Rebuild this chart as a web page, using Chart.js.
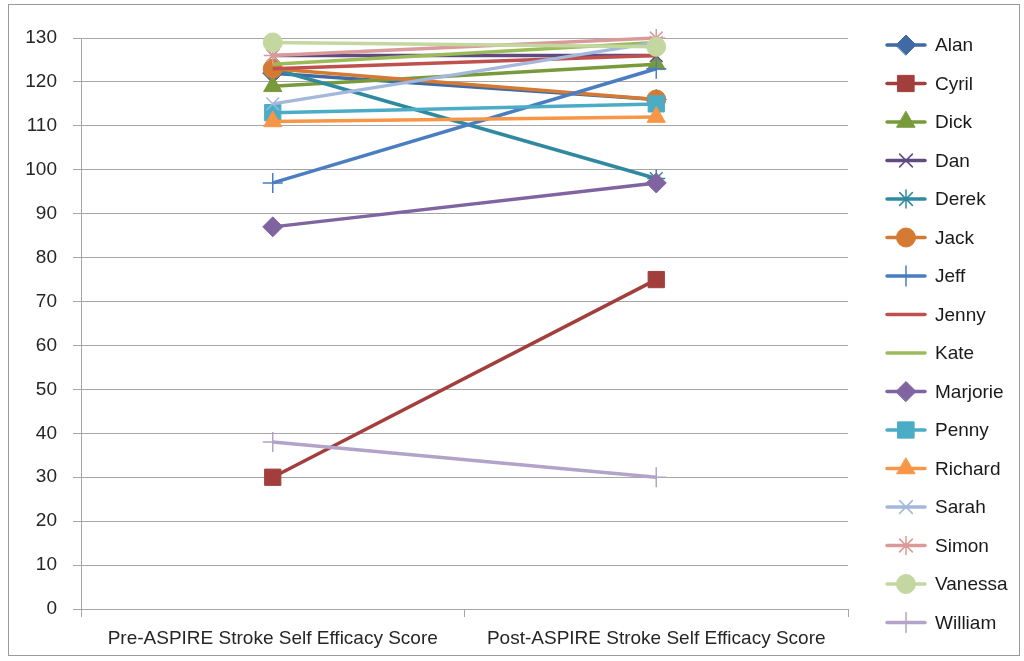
<!DOCTYPE html>
<html>
<head>
<meta charset="utf-8">
<title>ASPIRE Stroke Self Efficacy Score</title>
<script src="https://cdn.jsdelivr.net/npm/chart.js@4.4.1/dist/chart.umd.min.js"></script>
<style>
  html, body { margin: 0; padding: 0; background: #fff; }
  #wrap { width: 1024px; height: 661px; }
</style>
</head>
<body>
<div id="wrap"><canvas id="chart" width="1024" height="661"></canvas></div>
<script>
'use strict';

/* ─── Data ─────────────────────────────────────────────────── */
const categories = ['Pre-ASPIRE Stroke Self Efficacy Score', 'Post-ASPIRE Stroke Self Efficacy Score'];
const names      = ['Alan', 'Cyril', 'Dick', 'Dan', 'Derek', 'Jack', 'Jeff', 'Jenny',
                    'Kate', 'Marjorie', 'Penny', 'Richard', 'Sarah', 'Simon', 'Vanessa', 'William'];
const preScores  = [122, 30, 119, 126, 123, 123, 97, 123, 124, 87, 113, 111, 115, 126, 129, 38];
const postScores = [116, 75, 124, 126, 98, 116, 123, 126, 129, 97, 115, 112, 129, 130, 128, 30];
const yMin = 0, yMax = 130, yStep = 10;

/* ─── Series styling (Excel 2007 look) ─────────────────────── */
const colors  = ['#3F6AA3', '#A23F3C', '#789A3B', '#5F4B80', '#31899F', '#D57A33',
                 '#4A7EC0', '#C0504D', '#9BBB59', '#8064A2', '#4BACC6', '#F79646',
                 '#A3B8DA', '#D99A99', '#C4D7A0', '#B3A3C8'];
const markers = ['rectRot', 'rect', 'triangle', 'crossRot', 'star', 'circle', 'cross', false,
                 false, 'rectRot', 'rect', 'triangle', 'crossRot', 'star', 'circle', 'cross'];
const radii   = { rectRot: 10, rect: 11.5, triangle: 10.5, crossRot: 9, star: 9, circle: 9.5, cross: 10 };
const thin    = ['crossRot', 'star', 'cross'];

const FONT = { family: "'Liberation Sans', Arial, sans-serif", size: 19 };
const GRID = '#A6A6A6';

/* ─── Plugins ──────────────────────────────────────────────── */
const frame = {
  id: 'frame',
  beforeDraw(chart) {
    const { ctx } = chart;
    ctx.save();
    ctx.fillStyle = '#fff';
    ctx.fillRect(0, 0, chart.width, chart.height);
    ctx.strokeStyle = '#9A9A9A';
    ctx.lineWidth = 1;
    ctx.strokeRect(8.5, 4.5, 1011, 651);
    ctx.restore();
  }
};

const LEGEND_X = 887, LEGEND_TOP = 45, LEGEND_STEP = 38.5;
const excelLegend = {
  id: 'excelLegend',
  afterDraw(chart) {
    const { ctx } = chart;
    chart.data.datasets.forEach((ds, i) => {
      const y = LEGEND_TOP + i * LEGEND_STEP;
      ctx.save();
      ctx.strokeStyle = ds.borderColor;
      ctx.lineWidth = ds.borderWidth;
      ctx.lineCap = 'round';
      ctx.beginPath();
      ctx.moveTo(LEGEND_X, y);
      ctx.lineTo(LEGEND_X + 38, y);
      ctx.stroke();
      if (ds.pointRadius > 0) {
        ctx.fillStyle = ds.pointBackgroundColor;
        ctx.strokeStyle = ds.pointBorderColor;
        ctx.lineWidth = ds.pointBorderWidth;
        Chart.helpers.drawPoint(ctx, {
          pointStyle: ds.pointStyle, radius: ds.pointRadius,
          rotation: 0, borderWidth: ds.pointBorderWidth
        }, LEGEND_X + 19, y);
      }
      ctx.fillStyle = '#1a1a1a';
      ctx.font = `${FONT.size}px ${FONT.family}`;
      ctx.textBaseline = 'middle';
      ctx.fillText(ds.label, LEGEND_X + 48, y + 1);
      ctx.restore();
    });
  }
};

/* ─── Build ────────────────────────────────────────────────── */
const datasets = names.map((name, i) => {
  const style = markers[i];
  return {
    label: name,
    data: [preScores[i], postScores[i]],
    borderColor: colors[i],
    backgroundColor: colors[i],
    borderWidth: 3.5,
    pointStyle: style || 'circle',
    pointRadius: style ? radii[style] : 0,
    pointHoverRadius: style ? radii[style] : 0,
    pointBackgroundColor: colors[i],
    pointBorderColor: colors[i],
    pointBorderWidth: style && thin.includes(style) ? 1.5 : 1,
    tension: 0,
    clip: false,
    order: names.length - i,
  };
});

new Chart(document.getElementById('chart'), {
  type: 'line',
  data: { labels: categories, datasets },
  options: {
    responsive: false,
    animation: false,
    events: [],
    layout: { padding: { left: 0, top: 38, right: 176, bottom: 0 } },
    plugins: { legend: { display: false }, tooltip: { enabled: false } },
    scales: {
      x: {
        type: 'category',
        offset: true,
        grid: { offset: true, drawOnChartArea: false, tickLength: 8, color: GRID },
        border: { color: GRID },
        ticks: { font: FONT, color: '#262626', padding: 10, maxRotation: 0, autoSkip: false },
        afterFit(scale) { scale.height = 52; },
      },
      y: {
        min: yMin,
        max: yMax,
        grid: { color: GRID, tickLength: 8 },
        border: { color: GRID },
        ticks: { stepSize: yStep, font: FONT, color: '#262626', padding: 16 },
        afterFit(scale) { scale.width = 81; },
      },
    },
  },
  plugins: [frame, excelLegend],
});
</script>
</body>
</html>
